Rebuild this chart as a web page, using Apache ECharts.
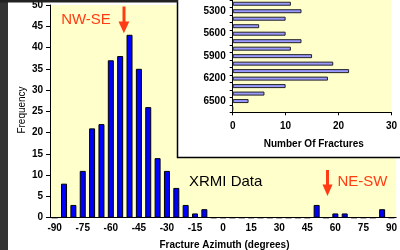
<!DOCTYPE html>
<html>
<head>
<meta charset="utf-8">
<script src="https://cdn.jsdelivr.net/npm/echarts@6/dist/echarts.min.js"></script>
<style>
  html, body { margin: 0; padding: 0; background: #fff; }
  #chart { width: 400px; height: 250px; }
</style>
</head>
<body>
<div id="chart"></div>
<script>
// Main histogram: fracture azimuth, 5 degree bins
var azimuths = [-90, -85, -80, -75, -70, -65, -60, -55, -50, -45, -40, -35, -30, -25, -20, -15, -10, -5,
    0, 5, 10, 15, 20, 25, 30, 35, 40, 45, 50, 55, 60, 65, 70, 75, 80, 85, 90];
var frequency = [0, 8, 3, 11, 21, 22, 37, 38, 43, 35, 26, 14, 11, 7, 3, 1, 2, 0,
    0, 0, 0, 0, 0, 0, 0, 0, 0, 0, 3, 0, 1, 1, 0, 0, 0, 2, 0];

// Inset: number of fractures per depth interval
var depths = ['5200', '5300', '5400', '5500', '5600', '5700', '5800', '5900',
    '6000', '6100', '6200', '6300', '6400', '6500', '6600'];
var fractureCounts = [11, 13, 10, 5, 10, 13, 11, 15, 19, 22, 18, 10, 6, 3, 0];

var FONT = 'Liberation Sans, Arial, sans-serif';
var RED = '#FF3C14';

var chart = echarts.init(document.getElementById('chart'));

var option = {
    animation: false,
    textStyle: { fontFamily: FONT },
    grid: [
        // main plot
        { left: 50, right: 0, top: 1.5, bottom: 32.3, show: true, backgroundColor: '#FFFFCC', borderWidth: 0, z: 0 },
        // inset plot
        { left: 232.7, right: 5, top: -2.1, bottom: 137.7, show: true, backgroundColor: '#FFFFCC', borderWidth: 0, z: 3 }
    ],
    xAxis: [
        {
            gridIndex: 0,
            type: 'category',
            data: azimuths,
            boundaryGap: true,
            axisLine: { lineStyle: { color: '#000', width: 1 } },
            axisTick: { interval: 0, length: 4, lineStyle: { color: '#000' } },
            axisLabel: { interval: 2, margin: 6, color: '#000', fontSize: 10, fontWeight: 'bold', fontFamily: FONT },
            splitLine: { show: false }
        },
        {
            gridIndex: 1,
            type: 'value',
            min: 0, max: 30, interval: 10,
            z: 5,
            axisLine: { show: true, lineStyle: { color: '#000', width: 1 } },
            axisTick: { show: true, length: 3, lineStyle: { color: '#000' } },
            axisLabel: { margin: 9, color: '#000', fontSize: 10, fontWeight: 'bold', fontFamily: FONT },
            splitLine: { show: false }
        }
    ],
    yAxis: [
        {
            gridIndex: 0,
            type: 'value',
            min: 0, max: 50, interval: 5,
            axisLine: { show: true, lineStyle: { color: '#000', width: 1 } },
            axisTick: { show: true, length: 4, lineStyle: { color: '#000' } },
            axisLabel: { margin: 7, color: '#000', fontSize: 10, fontWeight: 'bold', fontFamily: FONT },
            splitLine: { show: false }
        },
        {
            gridIndex: 1,
            type: 'category',
            data: depths,
            inverse: true,
            boundaryGap: true,
            z: 5,
            axisLine: { show: true, lineStyle: { color: '#000', width: 1 } },
            axisTick: { show: true, interval: 0, length: 3, lineStyle: { color: '#000' } },
            axisLabel: {
                interval: function (idx) { return idx % 3 === 1; },
                margin: 7, color: '#000', fontSize: 10, fontWeight: 'bold', fontFamily: FONT
            },
            splitLine: { show: false }
        }
    ],
    series: [
        {
            type: 'bar',
            xAxisIndex: 0, yAxisIndex: 0,
            data: frequency,
            barWidth: 6,
            itemStyle: { color: '#0000FF', borderColor: '#000', borderWidth: 1 },
            z: 2
        },
        {
            type: 'bar',
            xAxisIndex: 1, yAxisIndex: 1,
            data: fractureCounts,
            barWidth: 4,
            itemStyle: { color: '#9999FF', borderColor: '#222', borderWidth: 1 },
            z: 5
        }
    ],
    graphic: [
        // dark strip on the left edge
        { type: 'rect', z: 20, shape: { x: 0, y: 0, width: 8, height: 250 }, style: { fill: '#333' } },
        // top border line
        { type: 'rect', z: 20, shape: { x: 0, y: 0, width: 178, height: 2.6 }, style: { fill: '#222' } },
        // inset box
        { type: 'rect', z: 1, shape: { x: 177.5, y: -3, width: 230, height: 160.5 },
          style: { fill: '#fff', stroke: '#000', lineWidth: 1.5 } },
        // axis titles
        { type: 'text', z: 20, x: 22, y: 110, rotation: Math.PI / 2,
          style: { text: 'Frequency', fill: '#000', font: '10px ' + FONT, align: 'center', verticalAlign: 'middle' } },
        { type: 'text', z: 20, x: 224.5, y: 245,
          style: { text: 'Fracture Azimuth (degrees)', fill: '#000', font: 'bold 10px ' + FONT, align: 'center', verticalAlign: 'middle' } },
        { type: 'text', z: 20, x: 313.8, y: 144,
          style: { text: 'Number Of Fractures', fill: '#000', font: 'bold 10px ' + FONT, align: 'center', verticalAlign: 'middle' } },
        // annotations
        { type: 'text', z: 20, x: 86, y: 20,
          style: { text: 'NW-SE', fill: RED, font: '15px ' + FONT, align: 'center', verticalAlign: 'middle' } },
        { type: 'rect', z: 20, shape: { x: 122.5, y: 6.5, width: 3, height: 17 }, style: { fill: RED } },
        { type: 'polygon', z: 20, shape: { points: [[118.5, 21.5], [129.3, 21.5], [123.9, 33.3]] }, style: { fill: RED } },
        { type: 'text', z: 20, x: 362.5, y: 181.7,
          style: { text: 'NE-SW', fill: RED, font: '15px ' + FONT, align: 'center', verticalAlign: 'middle' } },
        { type: 'rect', z: 20, shape: { x: 326, y: 170, width: 3, height: 16 }, style: { fill: RED } },
        { type: 'polygon', z: 20, shape: { points: [[322.5, 184.5], [332.5, 184.5], [327.5, 196]] }, style: { fill: RED } },
        { type: 'text', z: 20, x: 189, y: 182,
          style: { text: 'XRMI Data', fill: '#000', font: '15px ' + FONT, align: 'left', verticalAlign: 'middle' } }
    ]
};

chart.setOption(option);
</script>
</body>
</html>
